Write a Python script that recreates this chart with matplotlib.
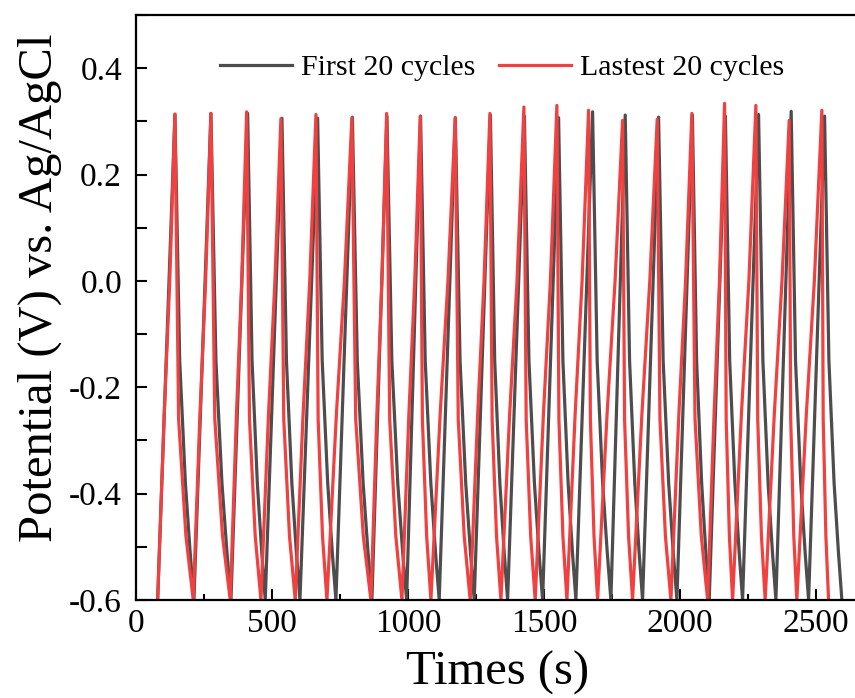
import matplotlib

matplotlib.use("Agg")
import matplotlib.pyplot as plt
from matplotlib.ticker import MultipleLocator, FormatStrFormatter

# first 20 cycles (dark grey), vertices
first_time = [
    79.8, 143.4, 160.9, 181.8, 199.2,
    213.2, 275.7, 294.1, 316.2, 334.6,
    349.3, 410.7, 426.9, 446.3, 462.5,
    475.4, 536.8, 553.4, 573.2, 589.8,
    603.0, 668.0, 684.8, 705.0, 721.8,
    735.3, 795.8, 813.8, 835.3, 853.2,
    867.6, 922.8, 940.9, 962.6, 980.7,
    995.2, 1046.5, 1063.6, 1084.2, 1101.3,
    1115.0, 1174.3, 1191.7, 1212.5, 1229.9,
    1243.8, 1303.3, 1319.1, 1338.1, 1353.9,
    1366.5, 1428.3, 1445.0, 1465.1, 1481.8,
    1495.2, 1554.0, 1569.9, 1589.0, 1604.9,
    1617.6, 1679.0, 1695.8, 1716.0, 1732.8,
    1746.3, 1799.0, 1815.0, 1834.1, 1850.0,
    1862.8, 1921.6, 1938.5, 1958.7, 1975.5,
    1989.0, 2046.0, 2061.5, 2080.0, 2095.4,
    2107.8, 2167.3, 2183.1, 2202.1, 2217.9,
    2230.5, 2289.3, 2305.2, 2324.3, 2340.3,
    2353.0, 2409.2, 2425.2, 2444.4, 2460.4,
    2473.2, 2532.0, 2547.9, 2567.0, 2582.9,
    2595.6,
]
first_potential = [
    -0.60, 0.313, -0.15, -0.38, -0.51,
    -0.60, 0.315, -0.15, -0.38, -0.51,
    -0.60, 0.315, -0.15, -0.38, -0.51,
    -0.60, 0.306, -0.15, -0.38, -0.51,
    -0.60, 0.306, -0.15, -0.38, -0.51,
    -0.60, 0.308, -0.15, -0.38, -0.51,
    -0.60, 0.310, -0.15, -0.38, -0.51,
    -0.60, 0.310, -0.15, -0.38, -0.51,
    -0.60, 0.307, -0.15, -0.38, -0.51,
    -0.60, 0.312, -0.15, -0.38, -0.51,
    -0.60, 0.310, -0.15, -0.38, -0.51,
    -0.60, 0.307, -0.15, -0.38, -0.51,
    -0.60, 0.318, -0.15, -0.38, -0.51,
    -0.60, 0.312, -0.15, -0.38, -0.51,
    -0.60, 0.308, -0.15, -0.38, -0.51,
    -0.60, 0.312, -0.15, -0.38, -0.51,
    -0.60, 0.310, -0.15, -0.38, -0.51,
    -0.60, 0.313, -0.15, -0.38, -0.51,
    -0.60, 0.319, -0.15, -0.38, -0.51,
    -0.60, 0.310, -0.15, -0.38, -0.51,
    -0.60,
]

# last 20 cycles (red)
last_time = [
    79.8, 104.0, 124.3, 143.4, 156.9, 183.8,
    210.7, 235.4, 256.2, 275.7, 289.9, 318.3,
    346.7, 369.6, 388.9, 407.0, 417.5, 438.6,
    459.6, 487.5, 511.0, 533.0, 543.5, 564.6,
    585.7, 614.6, 639.0, 661.8, 669.9, 686.0,
    702.2, 737.1, 766.5, 794.0, 808.0, 836.0,
    864.0, 885.9, 904.4, 921.7, 933.0, 955.5,
    978.0, 1003.6, 1025.1, 1045.3, 1053.2, 1068.9,
    1084.6, 1118.6, 1147.2, 1174.0, 1185.0, 1207.0,
    1229.0, 1256.6, 1279.8, 1301.5, 1309.6, 1325.8,
    1342.0, 1374.1, 1401.2, 1426.5, 1434.8, 1451.4,
    1468.0, 1498.3, 1523.9, 1547.8, 1555.2, 1569.9,
    1584.6, 1614.9, 1640.4, 1664.3, 1670.9, 1684.2,
    1697.4, 1732.3, 1761.7, 1789.3, 1796.6, 1811.3,
    1826.0, 1860.4, 1889.4, 1916.6, 1926.7, 1946.8,
    1967.0, 1996.3, 2020.9, 2044.0, 2055.6, 2078.8,
    2102.0, 2125.7, 2145.6, 2164.3, 2170.2, 2182.0,
    2193.8, 2226.3, 2253.7, 2279.4, 2286.2, 2299.9,
    2313.6, 2347.2, 2375.4, 2401.9, 2407.5, 2418.8,
    2430.0, 2465.0, 2494.4, 2522.0, 2526.9, 2536.8,
    2546.7,
]
last_potential = [
    -0.60, -0.25, 0.00, 0.314, -0.26, -0.48,
    -0.60, -0.25, 0.00, 0.315, -0.26, -0.48,
    -0.60, -0.25, 0.00, 0.318, -0.26, -0.48,
    -0.60, -0.25, 0.00, 0.305, -0.26, -0.48,
    -0.60, -0.25, 0.00, 0.313, -0.26, -0.48,
    -0.60, -0.25, 0.00, 0.307, -0.26, -0.48,
    -0.60, -0.25, 0.00, 0.315, -0.26, -0.48,
    -0.60, -0.25, 0.00, 0.310, -0.26, -0.48,
    -0.60, -0.25, 0.00, 0.307, -0.26, -0.48,
    -0.60, -0.25, 0.00, 0.315, -0.26, -0.48,
    -0.60, -0.25, 0.00, 0.327, -0.26, -0.48,
    -0.60, -0.25, 0.00, 0.330, -0.26, -0.48,
    -0.60, -0.25, 0.00, 0.321, -0.26, -0.48,
    -0.60, -0.25, 0.00, 0.302, -0.26, -0.48,
    -0.60, -0.25, 0.00, 0.304, -0.26, -0.48,
    -0.60, -0.25, 0.00, 0.315, -0.26, -0.48,
    -0.60, -0.25, 0.00, 0.334, -0.26, -0.48,
    -0.60, -0.25, 0.00, 0.330, -0.26, -0.48,
    -0.60, -0.25, 0.00, 0.302, -0.26, -0.48,
    -0.60, -0.25, 0.00, 0.321, -0.26, -0.48,
    -0.60,
]

labels = ["First 20 cycles", "Lastest 20 cycles"]
colors = ["#4d4d4d", "#f04040"]

plt.rcParams["font.family"] = ["Liberation Serif", "DejaVu Serif"]
plt.rcParams["axes.unicode_minus"] = False

fig = plt.figure(figsize=(8.55, 6.98), dpi=100)
ax = fig.add_axes([0.159, 0.1404, 0.842, 0.838])

ax.plot(first_time, first_potential, color=colors[0], lw=2.3, label=labels[0])
ax.plot(last_time, last_potential, color=colors[1], lw=2.3, label=labels[1])

ax.set_xlim(0, 2647)
ax.set_ylim(-0.6, 0.5)
ax.xaxis.set_major_locator(MultipleLocator(500))
ax.xaxis.set_minor_locator(MultipleLocator(250))
ax.yaxis.set_major_locator(MultipleLocator(0.2))
ax.yaxis.set_minor_locator(MultipleLocator(0.1))
ax.yaxis.set_major_formatter(FormatStrFormatter("%.1f"))

ax.spines["right"].set_visible(False)
for side in ("left", "bottom", "top"):
    ax.spines[side].set_linewidth(1.6)

ax.tick_params(axis="both", which="both", direction="in", width=1.5,
               top=False, right=False, labelsize=24)
ax.tick_params(axis="x", which="major", length=8, pad=6)
ax.tick_params(axis="x", which="minor", length=4)
ax.tick_params(axis="y", which="both", length=8, pad=10)

ax.set_xlabel("Times (s)", fontsize=35)
ax.set_ylabel("Potential (V) vs. Ag/AgCl", fontsize=35)
ax.xaxis.set_label_coords(0.502, -0.087)
ax.yaxis.set_label_coords(-0.103, 0.534)

ax.legend(loc="center", bbox_to_anchor=(0.509, 0.91), ncol=2, frameon=False,
          fontsize=21.5, handlelength=2.4, handletextpad=0.3, columnspacing=0.8)

fig.savefig("out.png", dpi=100)
plt.close(fig)
